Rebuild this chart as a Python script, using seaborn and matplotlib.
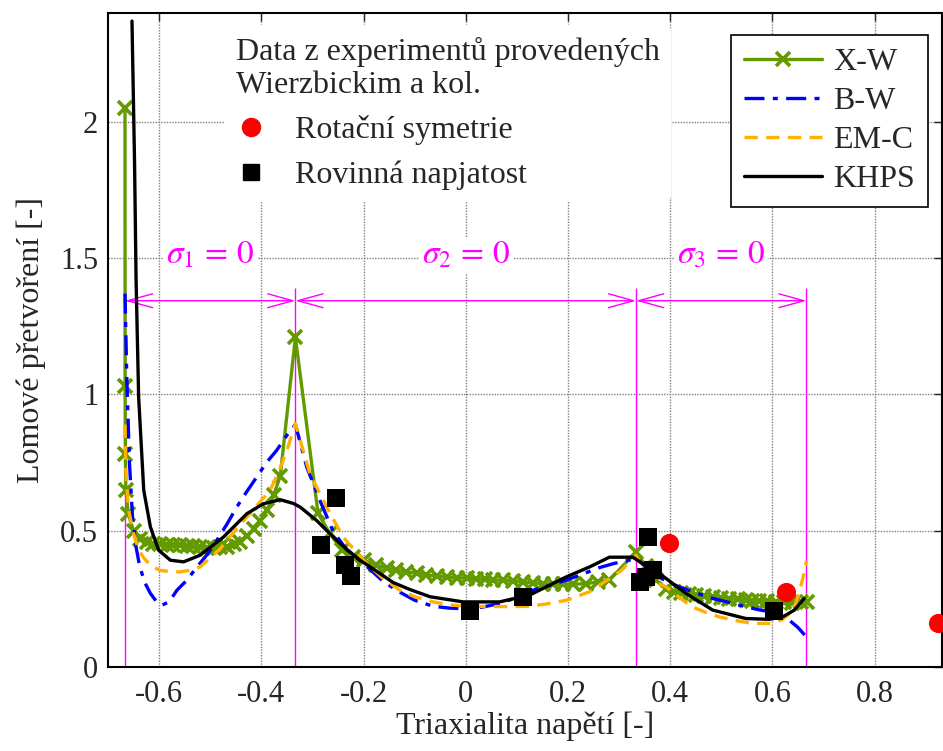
import matplotlib
matplotlib.use("Agg")
import matplotlib.pyplot as plt
from matplotlib.lines import Line2D
import seaborn as sns
import numpy as np

# X-W (zelena, krizky)
xw_x = [-0.6667, -0.6665, -0.666, -0.665, -0.660, -0.650, -0.637, -0.624, -0.611, -0.598,
        -0.585, -0.572, -0.559, -0.546, -0.533, -0.520, -0.506, -0.493, -0.480, -0.467,
        -0.454, -0.441, -0.428, -0.415, -0.402, -0.389, -0.376, -0.363, -0.3333, -0.289,
        -0.266, -0.243, -0.221, -0.200, -0.175, -0.155, -0.136, -0.116, -0.096, -0.077,
        -0.057, -0.037, -0.018, 0.002, 0.021, 0.037, 0.053, 0.072, 0.092, 0.112,
        0.132, 0.151, 0.171, 0.190, 0.210, 0.236, 0.258, 0.281, 0.3333, 0.352,
        0.372, 0.392, 0.407, 0.421, 0.436, 0.450, 0.467, 0.483, 0.500, 0.516,
        0.532, 0.548, 0.561, 0.574, 0.590, 0.607, 0.623, 0.639, 0.655, 0.6667]
xw_y = [2.05, 1.03, 0.78, 0.65, 0.56, 0.50, 0.47, 0.46, 0.453, 0.45,
        0.449, 0.448, 0.447, 0.445, 0.443, 0.44, 0.435, 0.436, 0.44, 0.442,
        0.45, 0.46, 0.48, 0.505, 0.535, 0.575, 0.63, 0.70, 1.21, 0.564,
        0.49, 0.43, 0.405, 0.392, 0.374, 0.363, 0.355, 0.349, 0.344, 0.338,
        0.333, 0.33, 0.328, 0.326, 0.324, 0.322, 0.32, 0.318, 0.316, 0.312,
        0.309, 0.306, 0.304, 0.304, 0.304, 0.306, 0.312, 0.319, 0.422, 0.37,
        0.32, 0.287, 0.277, 0.27, 0.267, 0.264, 0.261, 0.258, 0.255, 0.251,
        0.248, 0.245, 0.244, 0.243, 0.241, 0.239, 0.238, 0.236, 0.237, 0.239]

# B-W (modra, cerchovana)
bw_x = [-0.6667, -0.663, -0.658, -0.652, -0.645, -0.638, -0.628, -0.617, -0.605, -0.594,
        -0.580, -0.565, -0.545, -0.526, -0.505, -0.487, -0.467, -0.448, -0.428, -0.409,
        -0.390, -0.370, -0.350, -0.3333, -0.311, -0.285, -0.260, -0.233, -0.194, -0.165,
        -0.136, -0.100, -0.064, -0.031, 0.001, 0.033, 0.066, 0.100, 0.132, 0.165,
        0.197, 0.230, 0.262, 0.290, 0.320, 0.3333, 0.366, 0.392, 0.418, 0.450,
        0.483, 0.515, 0.548, 0.574, 0.594, 0.615, 0.633, 0.650, 0.6667]
bw_y = [1.37, 1.05, 0.75, 0.55, 0.44, 0.37, 0.31, 0.27, 0.24, 0.227,
        0.24, 0.282, 0.32, 0.367, 0.415, 0.465, 0.525, 0.587, 0.645, 0.697,
        0.75, 0.795, 0.85, 0.89, 0.733, 0.61, 0.50, 0.43, 0.37, 0.32,
        0.282, 0.245, 0.223, 0.216, 0.214, 0.22, 0.233, 0.255, 0.282, 0.30,
        0.319, 0.342, 0.365, 0.38, 0.392, 0.40, 0.344, 0.315, 0.294, 0.272,
        0.252, 0.237, 0.221, 0.21, 0.203, 0.19, 0.172, 0.145, 0.11]

# EM-C (oranzova, carkovana)
emc_x = [-0.6667, -0.665, -0.660, -0.650, -0.640, -0.630, -0.615, -0.598, -0.578, -0.559,
         -0.540, -0.520, -0.500, -0.480, -0.467, -0.445, -0.422, -0.403, -0.383, -0.365,
         -0.350, -0.3333, -0.305, -0.272, -0.240, -0.200, -0.165, -0.129, -0.100, -0.064,
         -0.030, 0.001, 0.050, 0.100, 0.125, 0.160, 0.197, 0.242, 0.281, 0.305,
         0.320, 0.3333, 0.353, 0.372, 0.392, 0.418, 0.443, 0.470, 0.496, 0.530,
         0.561, 0.600, 0.620, 0.633, 0.645, 0.652, 0.660, 0.6667]
emc_y = [0.89, 0.72, 0.58, 0.49, 0.43, 0.40, 0.37, 0.355, 0.35, 0.349,
         0.355, 0.367, 0.40, 0.435, 0.465, 0.515, 0.563, 0.605, 0.648, 0.72,
         0.795, 0.893, 0.709, 0.587, 0.477, 0.392, 0.33, 0.282, 0.258, 0.239,
         0.228, 0.223, 0.222, 0.222, 0.223, 0.232, 0.245, 0.276, 0.324, 0.355,
         0.386, 0.41, 0.331, 0.31, 0.294, 0.255, 0.221, 0.20, 0.184, 0.17,
         0.16, 0.16, 0.175, 0.196, 0.23, 0.27, 0.33, 0.39]

# KHPS (cerna)
khps_x = [-0.653, -0.648, -0.645, -0.640, -0.630, -0.617, -0.601, -0.578, -0.552, -0.520,
          -0.474, -0.428, -0.396, -0.363, -0.337, -0.324, -0.292, -0.246, -0.207, -0.181,
          -0.142, -0.110, -0.070, -0.005, 0.066, 0.125, 0.197, 0.242, 0.281, 0.327,
          0.346, 0.379, 0.431, 0.483, 0.548, 0.594, 0.620, 0.643, 0.662]
khps_y = [2.37, 1.85, 1.42, 0.99, 0.648, 0.514, 0.429, 0.392, 0.386, 0.41,
          0.477, 0.563, 0.599, 0.614, 0.60, 0.587, 0.538, 0.453, 0.392, 0.36,
          0.31, 0.285, 0.258, 0.239, 0.239, 0.264, 0.331, 0.367, 0.403, 0.403,
          0.379, 0.343, 0.27, 0.209, 0.178, 0.175, 0.184, 0.209, 0.251]

# experimenty Wierzbicki
rot_x = [0.398, 0.626, 0.924]
rot_y = [0.455, 0.276, 0.162]
rov_x = [-0.284, -0.253, -0.236, -0.225, 0.009, 0.112, 0.340, 0.352, 0.356, 0.366, 0.604]
rov_y = [0.447, 0.62, 0.374, 0.333, 0.206, 0.258, 0.312, 0.33, 0.477, 0.355, 0.207]

# hranice oblasti (triaxialita)
hranice = [-2/3, -1/3, 1/3, 2/3]
sigma_txt = [r'$\sigma_1\,=\,0$', r'$\sigma_2\,=\,0$', r'$\sigma_3\,=\,0$']

sns.set_style("white")
plt.rcParams['font.family'] = ['Liberation Serif', 'DejaVu Serif']
plt.rcParams['mathtext.fontset'] = 'stix'
plt.rcParams['axes.unicode_minus'] = False

green = '#639A00'
blue = '#0000FF'
orange = '#FFB000'
magenta = '#FF00FF'

fig = plt.figure(figsize=(9.43, 7.51), dpi=100)
ax = fig.add_axes([0.1145, 0.1118, 0.884, 0.871])

ax.grid(True, color='0.5', linestyle=(0, (1, 1)), linewidth=1.0, zorder=0)
ax.set_axisbelow(True)

# hranice a sipky
ax.vlines(hranice, 0, 1.39, color=magenta, lw=1, zorder=1)
for a, b in zip(hranice[:-1], hranice[1:]):
    ax.annotate('', xy=(b, 1.344), xytext=(a, 1.344),
                arrowprops=dict(arrowstyle='<->,head_length=1.8,head_width=0.5',
                                color=magenta, lw=1, shrinkA=0, shrinkB=0,
                                mutation_scale=10), zorder=1)
for a, b, t in zip(hranice[:-1], hranice[1:], sigma_txt):
    ax.text((a + b) / 2, 1.51, t, color=magenta, fontsize=24, ha='center', va='center',
            bbox=dict(facecolor='white', edgecolor='none', pad=2), zorder=2)

sns.lineplot(x=xw_x, y=xw_y, ax=ax, color=green, lw=2.4, marker='x', markersize=10,
             markeredgewidth=2.6, markeredgecolor=green, estimator=None, sort=False, zorder=3)
sns.lineplot(x=bw_x, y=bw_y, ax=ax, color=blue, lw=2.4, estimator=None, sort=False, zorder=4,
             dashes=False, linestyle=(0, (6, 2.5, 1.5, 2.5)))
sns.lineplot(x=emc_x, y=emc_y, ax=ax, color=orange, lw=2.4, estimator=None, sort=False, zorder=4,
             linestyle=(0, (4, 2.5)))
sns.lineplot(x=khps_x, y=khps_y, ax=ax, color='black', lw=2.4, estimator=None, sort=False, zorder=5)

sns.scatterplot(x=rot_x, y=rot_y, ax=ax, color='red', marker='o', s=190, linewidth=0,
                zorder=6, clip_on=False)
sns.scatterplot(x=rov_x, y=rov_y, ax=ax, color='black', marker='s', s=160, linewidth=0, zorder=6)

ax.set_xlim(-0.7, 0.931)
ax.set_ylim(0, 2.4)
ax.set_xticks([-0.6, -0.4, -0.2, 0, 0.2, 0.4, 0.6, 0.8])
ax.set_xticklabels(['-0.6', '-0.4', '-0.2', '0', '0.2', '0.4', '0.6', '0.8'])
ax.set_yticks([0, 0.5, 1, 1.5, 2])
ax.set_yticklabels(['0', '0.5', '1', '1.5', '2'])
ax.tick_params(direction='in', top=True, right=True, length=6, width=1, labelsize=22)
ax.tick_params(axis='x', pad=9)
ax.tick_params(axis='y', pad=7)
for s in ax.spines.values():
    s.set_visible(True)
    s.set_linewidth(1.5)
    s.set_color('black')

ax.set_xlabel('Triaxialita napětí [-]', fontsize=23, labelpad=2)
ax.set_ylabel('Lomové přetvoření [-]', fontsize=23, labelpad=10)

# legenda modelu
h_mod = [Line2D([], [], color=green, lw=2.4, marker='x', markersize=10, markeredgewidth=2.6),
         Line2D([], [], color=blue, lw=2.4, linestyle=(0, (6, 2.5, 1.5, 2.5))),
         Line2D([], [], color=orange, lw=2.4, linestyle=(0, (4, 2.5))),
         Line2D([], [], color='black', lw=2.4)]
leg1 = ax.legend(h_mod, ['X-W', 'B-W', 'EM-C', 'KHPS'], loc='upper right',
                 bbox_to_anchor=(0.9832, 0.966), borderaxespad=0, fontsize=23,
                 handlelength=2.45, handletextpad=0.35, labelspacing=0.3, numpoints=1,
                 fancybox=False, framealpha=1, edgecolor='black', borderpad=0.4)
leg1.get_frame().set_linewidth(1.2)
leg1.set_zorder(10)
ax.add_artist(leg1)

# legenda experimentu
h_exp = [Line2D([], [], color='red', marker='o', linestyle='None', markersize=13),
         Line2D([], [], color='black', marker='s', linestyle='None', markersize=12)]
leg2 = ax.legend(h_exp, ['Rotační symetrie', 'Rovinná napjatost'], loc='upper left',
                 bbox_to_anchor=(0.140, 0.981), borderaxespad=0, fontsize=23,
                 title='Data z experimentů provedených\nWierzbickim a kol.', title_fontsize=23,
                 alignment='left', handlelength=0.95, handletextpad=0.9, labelspacing=0.48,
                 frameon=True, framealpha=1, edgecolor='none', facecolor='white', borderpad=0.35)
leg2.set_zorder(10)

fig.savefig('out.png', dpi=100)
